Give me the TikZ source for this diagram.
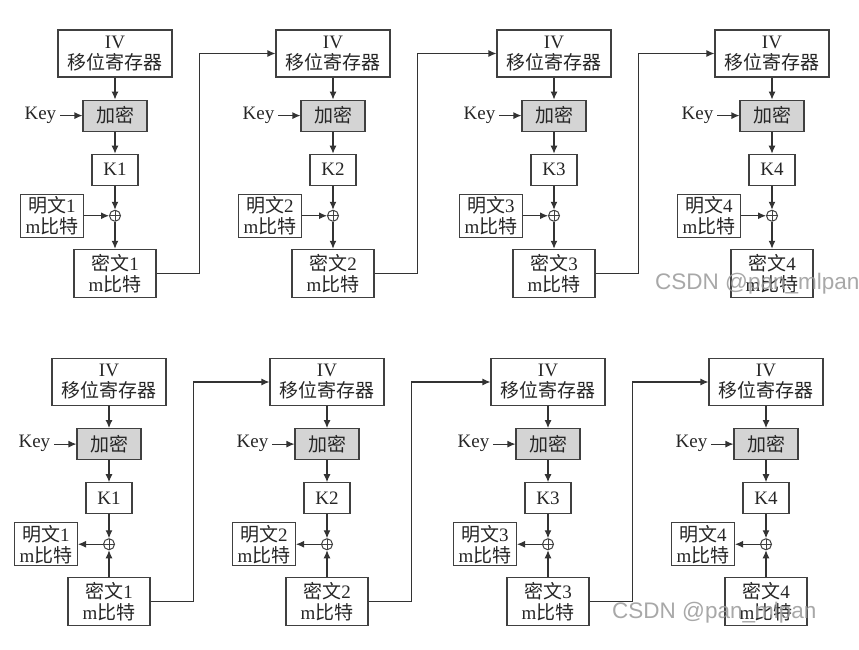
\documentclass[tikz,border=0pt]{standalone}
\usepackage{fontspec}
\setmainfont{Liberation Serif}
\newfontfamily\cjk{Noto Sans CJK SC}
\newfontfamily\wmfont{Liberation Sans}
\usetikzlibrary{positioning,arrows.meta}

\tikzset{
  box/.style={draw=black!75, line width=1.1pt, inner sep=0pt, align=center,
    text=black!85, font=\fontsize{19}{21}\selectfont},
  encbox/.style={box, fill=black!17, minimum width=64pt, minimum height=31pt},
  keybox/.style={inner sep=0pt, text height=1.5ex, text depth=0pt, text=black!85,
    font=\fontsize{19}{21}\selectfont},
  xorc/.style={circle, draw=black!75, line width=1pt, minimum size=11pt, inner sep=0pt,
    path picture={\draw[black!75, line width=0.8pt]
      (path picture bounding box.north) -- (path picture bounding box.south)
      (path picture bounding box.west) -- (path picture bounding box.east);}},
  arr/.style={draw=black!80, line width=1.1pt, -{Latex[length=8pt,width=7pt]}},
  wm/.style={text=black!40, opacity=0.85, inner sep=0pt,
    font=\wmfont\fontsize{22.5}{24}\selectfont}
}

\begin{document}
\begin{tikzpicture}[x=1pt,y=-1pt]
  \fill[white] (0,0) rectangle (859,650);
  \useasboundingbox (0,0) rectangle (859,650);

  % encryption row
  \foreach \i/\cx in {1/115,2/333,3/554,4/772}{
    \node[box, minimum width=114pt, minimum height=47pt] (iv\i) at (\cx,53.5) {IV\\{\cjk 移位寄存器}};
    \node[encbox, below=22pt of iv\i] (enc\i) {\cjk 加密};
    \node[keybox, left=26pt of enc\i] (key\i) {Key};
    \node[box, minimum width=46pt, minimum height=31pt, below=22pt of enc\i] (k\i) {K\i};
    \node[xorc, below=24pt of k\i] (x\i) {};
    \node[box, minimum width=63pt, minimum height=43pt, left=25pt of x\i] (p\i) {{\cjk 明文}\i\\m{\cjk 比特}};
    \node[box, minimum width=82pt, minimum height=48pt, below=27pt of x\i] (c\i) {{\cjk 密文}\i\\m{\cjk 比特}};

    \draw[arr] (iv\i) -- (enc\i);
    \draw[arr, shorten <=4pt] (key\i) -- (enc\i);
    \draw[arr] (enc\i) -- (k\i);
    \draw[arr] (k\i) -- (x\i);
    \draw[arr] (p\i) -- (x\i);
    \draw[arr] (x\i) -- (c\i);
  }
  \foreach \i/\j in {1/2,2/3,3/4}
    \draw[arr] (c\i.east) -- ++(43,0) |- (iv\j.west);

  % decryption row
  \foreach \i/\cx in {1/109,2/327,3/548,4/766}{
    \node[box, minimum width=114pt, minimum height=47pt] (div\i) at (\cx,382) {IV\\{\cjk 移位寄存器}};
    \node[encbox, below=22pt of div\i] (denc\i) {\cjk 加密};
    \node[keybox, left=26pt of denc\i] (dkey\i) {Key};
    \node[box, minimum width=46pt, minimum height=31pt, below=22pt of denc\i] (dk\i) {K\i};
    \node[xorc, below=24pt of dk\i] (dx\i) {};
    \node[box, minimum width=63pt, minimum height=43pt, left=25pt of dx\i] (dp\i) {{\cjk 明文}\i\\m{\cjk 比特}};
    \node[box, minimum width=82pt, minimum height=48pt, below=27pt of dx\i] (dc\i) {{\cjk 密文}\i\\m{\cjk 比特}};

    \draw[arr] (div\i) -- (denc\i);
    \draw[arr, shorten <=4pt] (dkey\i) -- (denc\i);
    \draw[arr] (denc\i) -- (dk\i);
    \draw[arr] (dk\i) -- (dx\i);
    \draw[arr] (dx\i) -- (dp\i);
    \draw[arr] (dc\i) -- (dx\i);
  }
  \foreach \i/\j in {1/2,2/3,3/4}
    \draw[arr] (dc\i.east) -- ++(43,0) |- (div\j.west);

  \node[wm, anchor=west] (wm1) at (655,284) {CSDN @pan\_mlpan};
  \node[wm, anchor=west] (wm2) at (612,613) {CSDN @pan\_mlpan};
\end{tikzpicture}
\end{document}
